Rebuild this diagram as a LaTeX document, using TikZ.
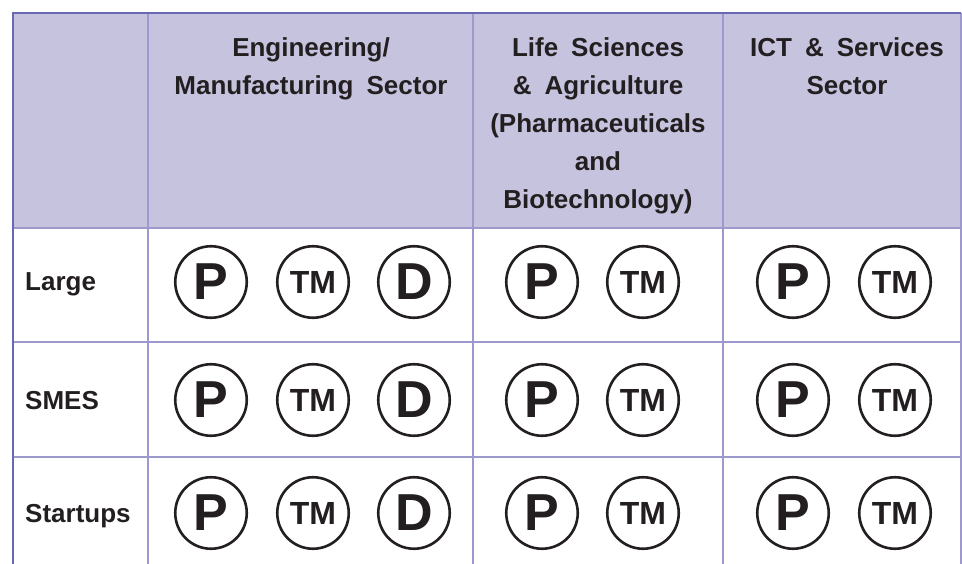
\documentclass[tikz,border=0pt]{standalone}
\usepackage{fontspec}
\setmainfont[WordSpace=1.8]{Liberation Sans}
\usepackage{tikz}

\definecolor{headfill}{HTML}{C6C3DE}
\definecolor{gridline}{HTML}{9D99CC}
\definecolor{rimline}{HTML}{6A67B3}
\definecolor{ink}{HTML}{231F20}

\begin{document}
\begin{tikzpicture}[x=1pt, y=-1pt,
  grid/.style={draw=gridline, line width=1.8pt},
  rim/.style={draw=rimline, line width=1.5pt},
  head/.style={font=\bfseries\fontsize{26}{38}\selectfont, text=ink, align=center, anchor=north, inner sep=0pt},
  rowlabel/.style={font=\bfseries\fontsize{26}{30}\selectfont, text=ink, anchor=base west, inner sep=0pt},
  ipmark/.style={circle, draw=ink, text=ink, line width=2.6pt, minimum size=71.5pt, inner sep=0pt, font=\bfseries\fontsize{52}{52}\selectfont},
  tmmark/.style={ipmark, font=\bfseries\fontsize{32}{32}\selectfont}]
  \useasboundingbox (0,0) rectangle (962,564);

  % header band and grid
  \fill[headfill] (13,13) rectangle (961,228);
  \draw[grid] (148,13) -- (148,564);
  \draw[grid] (473,13) -- (473,564);
  \draw[grid] (723,13) -- (723,564);
  \draw[grid] (961,13) -- (961,564);
  \draw[grid] (13,228) -- (961,228);
  \draw[grid] (13,342) -- (961,342);
  \draw[grid] (13,457) -- (961,457);
  \draw[rim] (961,13) -- (13,13) -- (13,564);

  % column heads
  \node[head] (eng) at (311,37) {Engineering/\\Manufacturing Sector};
  \node[head] (life) at (598,37) {Life Sciences\\\& Agriculture\\(Pharmaceuticals\\and\\Biotechnology)};
  \node[head] (ict) at (847,37) {ICT \& Services\\Sector};

  % rows
  \foreach \y/\name/\lab in {282/large/Large, 400/smes/SMES, 513/start/Startups}{
    \node[rowlabel] (\name) at (25,\y+9) {\lab};
    \node[ipmark] (\name-eng-p) at (211,\y) {P};
    \node[tmmark] (\name-eng-tm) at (313,\y) {TM};
    \node[ipmark] (\name-eng-d) at (414,\y) {D};
    \node[ipmark] (\name-life-p) at (542,\y) {P};
    \node[tmmark] (\name-life-tm) at (643,\y) {TM};
    \node[ipmark] (\name-ict-p) at (793,\y) {P};
    \node[tmmark] (\name-ict-tm) at (895,\y) {TM};
  }
\end{tikzpicture}
\end{document}
